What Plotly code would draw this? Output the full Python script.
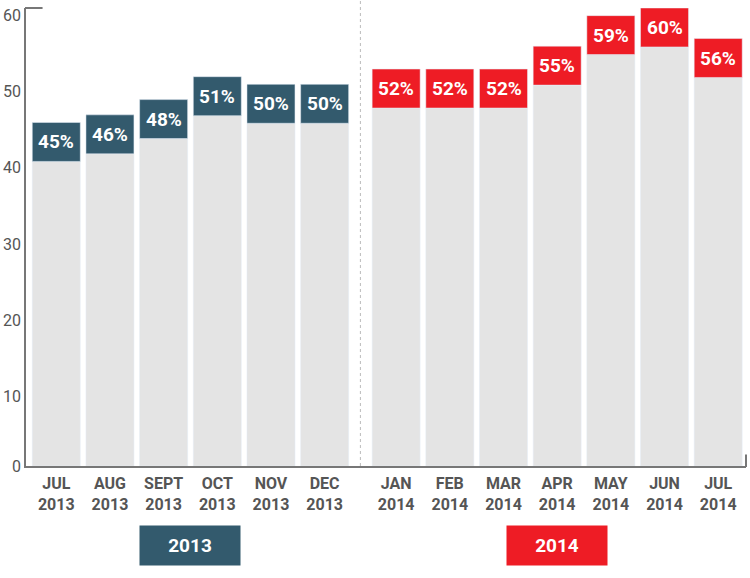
import plotly.graph_objects as go

months = ["JUL", "AUG", "SEPT", "OCT", "NOV", "DEC",
          "JAN", "FEB", "MAR", "APR", "MAY", "JUN", "JUL"]
years = ["2013"] * 6 + ["2014"] * 7
values = [45, 46, 48, 51, 50, 50, 52, 52, 52, 55, 59, 60, 56]
y_ticks = [0, 10, 20, 30, 40, 50, 60]
groups = ["2013", "2014"]

TEAL = "#335a6d"
RED = "#ee1c25"
GRAY = "#e4e4e4"
AXIS = "#777777"
BOX_H = 5.1
GAP = 0.332
FONT = "Roboto, Open Sans, sans-serif"

xpos = [i + (GAP if years[i] == "2014" else 0) for i in range(len(values))]
colors = [TEAL if y == "2013" else RED for y in years]
ticktext = [f"<b>{m}<br>{y}</b>" for m, y in zip(months, years)]

fig = go.Figure()
fig.add_bar(x=xpos, y=[v - BOX_H for v in values], marker_color=GRAY,
            width=0.894, hoverinfo="skip")
fig.add_bar(x=xpos, y=[BOX_H] * len(values), base=[v - BOX_H for v in values],
            marker_color=colors, width=0.894, hoverinfo="skip")

# percentage labels in the coloured boxes
for x, v in zip(xpos, values):
    fig.add_annotation(x=x, y=v - BOX_H / 2, xref="x", yref="y",
                       text=f"<b>{v}%</b>", showarrow=False,
                       font=dict(size=19, color="white", family=FONT))

# y tick labels (sit slightly below their values, except zero)
for t in y_ticks:
    fig.add_annotation(x=0, y=t, xref="paper", yref="y", text=str(t),
                       showarrow=False, xanchor="right", xshift=-3,
                       yshift=(-7 if t else 0),
                       font=dict(size=16, color="#555555", family=FONT))

# dotted divider between years
split = (xpos[5] + xpos[6]) / 2
fig.add_shape(type="line", xref="x", yref="paper", x0=split, x1=split,
              y0=0, y1=1.02, line=dict(color="#bbbbbb", width=1, dash="dot"))
# top cap of y-axis and right end tick of x-axis
fig.add_shape(type="line", xref="paper", yref="paper", x0=-0.0014, x1=0.023,
              y0=1, y1=1, line=dict(color=AXIS, width=2))
fig.add_shape(type="line", xref="paper", yref="paper", x0=1, x1=1,
              y0=-0.002, y1=0.025, line=dict(color=AXIS, width=2))

# group boxes
for g, c in zip(groups, [TEAL, RED]):
    xs = [x for x, y in zip(xpos, years) if y == g]
    fig.add_annotation(x=(xs[0] + xs[-1]) / 2, y=-0.218, xref="x", yref="paper",
                       text=f"<b>{g}</b>", showarrow=False, bgcolor=c,
                       width=100, height=39, borderpad=0, yanchor="bottom",
                       font=dict(size=19, color="white", family=FONT))

fig.update_layout(
    width=750, height=578,
    margin=dict(l=26, r=4, t=8, b=112, autoexpand=False),
    paper_bgcolor="white", plot_bgcolor="white",
    barmode="overlay", showlegend=False,
    xaxis=dict(range=[-0.564, 12.85], tickvals=xpos, ticktext=ticktext,
               showgrid=False, zeroline=False, showline=True, linecolor=AXIS,
               linewidth=2, ticks="", fixedrange=True, automargin=False,
               ticklabelstandoff=2,
               tickfont=dict(size=16, color="#555555", family=FONT)),
    yaxis=dict(range=[0, 60], showticklabels=False, automargin=False,
               showgrid=False, zeroline=False, showline=True, linecolor=AXIS,
               linewidth=2, ticks="", fixedrange=True),
)

fig.write_html("out.html", config={"displayModeBar": False},
               post_script="document.body.style.margin='0';document.body.style.overflow='hidden';")
